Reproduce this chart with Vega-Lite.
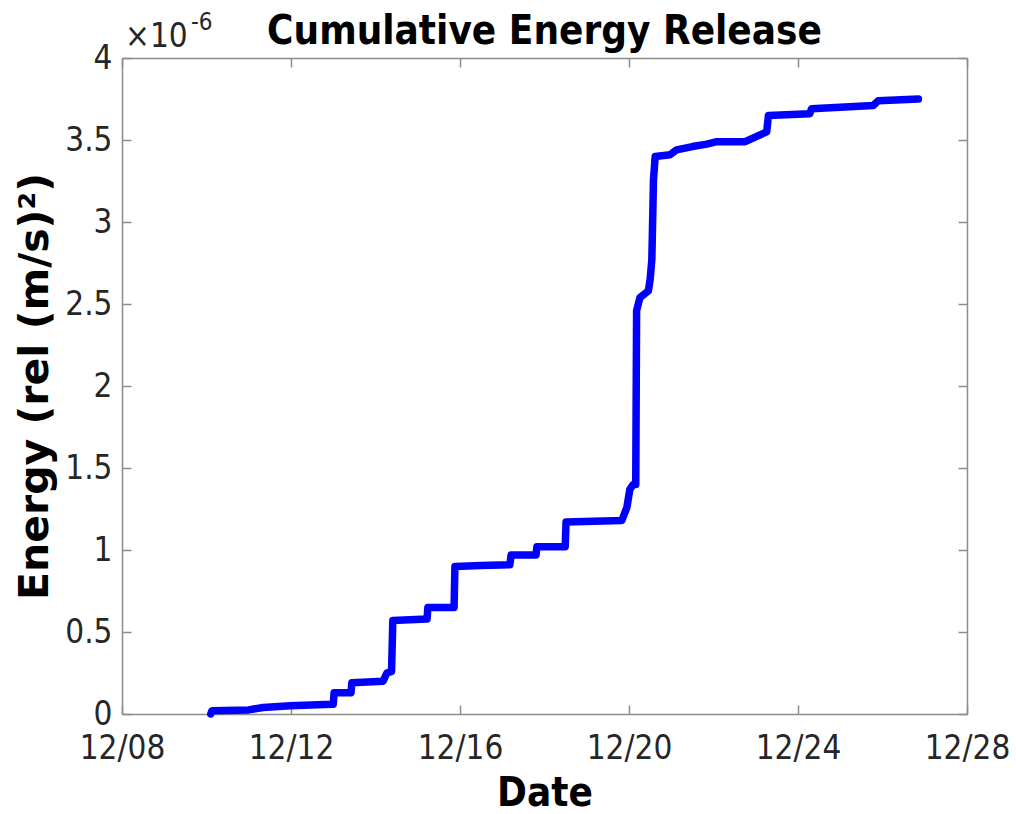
{
  "$schema": "https://vega.github.io/schema/vega-lite/v6.json",
  "width": 845,
  "height": 656,
  "autosize": {"type": "none"},
  "padding": {"left": 122, "top": 58, "right": 49, "bottom": 100},
  "background": "white",
  "data": {
    "values": [
      {"time": "2017-12-10T02:24:00", "energy": 0.0},
      {"time": "2017-12-10T03:07:00", "energy": 0.02e-6},
      {"time": "2017-12-11T00:00:00", "energy": 0.025e-6},
      {"time": "2017-12-11T08:10:00", "energy": 0.04e-6},
      {"time": "2017-12-11T23:31:00", "energy": 0.05e-6},
      {"time": "2017-12-12T23:02:00", "energy": 0.06e-6},
      {"time": "2017-12-13T00:00:00", "energy": 0.06e-6},
      {"time": "2017-12-13T00:29:00", "energy": 0.13e-6},
      {"time": "2017-12-13T10:05:00", "energy": 0.13e-6},
      {"time": "2017-12-13T10:34:00", "energy": 0.19e-6},
      {"time": "2017-12-14T04:19:00", "energy": 0.20e-6},
      {"time": "2017-12-14T06:29:00", "energy": 0.25e-6},
      {"time": "2017-12-14T09:07:00", "energy": 0.26e-6},
      {"time": "2017-12-14T09:50:00", "energy": 0.57e-6},
      {"time": "2017-12-15T05:17:00", "energy": 0.58e-6},
      {"time": "2017-12-15T05:46:00", "energy": 0.65e-6},
      {"time": "2017-12-15T20:38:00", "energy": 0.65e-6},
      {"time": "2017-12-15T21:07:00", "energy": 0.90e-6},
      {"time": "2017-12-16T12:00:00", "energy": 0.905e-6},
      {"time": "2017-12-17T04:19:00", "energy": 0.91e-6},
      {"time": "2017-12-17T05:02:00", "energy": 0.97e-6},
      {"time": "2017-12-17T19:12:00", "energy": 0.97e-6},
      {"time": "2017-12-17T19:41:00", "energy": 1.02e-6},
      {"time": "2017-12-18T11:46:00", "energy": 1.02e-6},
      {"time": "2017-12-18T12:14:00", "energy": 1.17e-6},
      {"time": "2017-12-19T19:55:00", "energy": 1.18e-6},
      {"time": "2017-12-19T22:48:00", "energy": 1.26e-6},
      {"time": "2017-12-20T00:29:00", "energy": 1.37e-6},
      {"time": "2017-12-20T02:24:00", "energy": 1.40e-6},
      {"time": "2017-12-20T03:50:00", "energy": 1.40e-6},
      {"time": "2017-12-20T04:19:00", "energy": 2.46e-6},
      {"time": "2017-12-20T06:14:00", "energy": 2.54e-6},
      {"time": "2017-12-20T11:02:00", "energy": 2.58e-6},
      {"time": "2017-12-20T12:00:00", "energy": 2.65e-6},
      {"time": "2017-12-20T12:58:00", "energy": 2.77e-6},
      {"time": "2017-12-20T13:55:00", "energy": 3.26e-6},
      {"time": "2017-12-20T14:53:00", "energy": 3.40e-6},
      {"time": "2017-12-20T23:17:00", "energy": 3.41e-6},
      {"time": "2017-12-21T03:07:00", "energy": 3.44e-6},
      {"time": "2017-12-21T12:00:00", "energy": 3.46e-6},
      {"time": "2017-12-21T20:10:00", "energy": 3.475e-6},
      {"time": "2017-12-22T01:55:00", "energy": 3.49e-6},
      {"time": "2017-12-22T18:00:00", "energy": 3.49e-6},
      {"time": "2017-12-23T06:14:00", "energy": 3.55e-6},
      {"time": "2017-12-23T07:12:00", "energy": 3.65e-6},
      {"time": "2017-12-24T06:43:00", "energy": 3.66e-6},
      {"time": "2017-12-24T07:41:00", "energy": 3.69e-6},
      {"time": "2017-12-25T18:43:00", "energy": 3.71e-6},
      {"time": "2017-12-25T21:36:00", "energy": 3.74e-6},
      {"time": "2017-12-26T20:24:00", "energy": 3.75e-6}
    ]
  },
  "layer": [
    {
      "mark": {"type": "line", "color": "#0000ff", "strokeWidth": 7.5, "strokeJoin": "round", "strokeCap": "round"},
      "encoding": {
        "x": {
          "field": "time",
          "type": "temporal",
          "scale": {"domain": [{"year": 2017, "month": 12, "date": 8}, {"year": 2017, "month": 12, "date": 28}], "nice": false},
          "axis": {
            "orient": "bottom",
            "title": "Date",
            "titleFontSize": 40,
            "format": "%m/%d",
            "values": [
              {"year": 2017, "month": 12, "date": 8},
              {"year": 2017, "month": 12, "date": 12},
              {"year": 2017, "month": 12, "date": 16},
              {"year": 2017, "month": 12, "date": 20},
              {"year": 2017, "month": 12, "date": 24},
              {"year": 2017, "month": 12, "date": 28}
            ],
            "labelPadding": 27,
            "titlePadding": 8
          }
        },
        "y": {
          "field": "energy",
          "type": "quantitative",
          "scale": {"domain": [0, 4e-6], "nice": false, "zero": true},
          "axis": {
            "orient": "left",
            "title": "Energy (rel (m/s)²)",
            "titleFont": "DejaVu Sans",
            "titleFontSize": 41,
            "values": [0, 0.5e-6, 1e-6, 1.5e-6, 2e-6, 2.5e-6, 3e-6, 3.5e-6, 4e-6],
            "labelExpr": "format(datum.value * 1e6, '~g')",
            "labelPadding": 19,
            "titlePadding": 8
          }
        }
      }
    },
    {
      "mark": {"type": "point", "opacity": 0},
      "encoding": {
        "x": {
          "field": "time",
          "type": "temporal",
          "axis": {
            "orient": "top",
            "title": null,
            "labels": false,
            "values": [
              {"year": 2017, "month": 12, "date": 8},
              {"year": 2017, "month": 12, "date": 12},
              {"year": 2017, "month": 12, "date": 16},
              {"year": 2017, "month": 12, "date": 20},
              {"year": 2017, "month": 12, "date": 24},
              {"year": 2017, "month": 12, "date": 28}
            ]
          }
        },
        "y": {
          "field": "energy",
          "type": "quantitative",
          "axis": {
            "orient": "right",
            "title": null,
            "labels": false,
            "values": [0, 0.5e-6, 1e-6, 1.5e-6, 2e-6, 2.5e-6, 3e-6, 3.5e-6, 4e-6]
          }
        }
      }
    },
    {
      "data": {"values": [{"label": "Cumulative Energy Release"}]},
      "mark": {
        "type": "text",
        "align": "center",
        "baseline": "alphabetic",
        "dy": -14,
        "font": "DejaVu Sans Condensed, DejaVu Sans",
        "fontSize": 40,
        "fontWeight": "bold",
        "color": "#000000"
      },
      "encoding": {
        "x": {"datum": {"year": 2017, "month": 12, "date": 18}, "type": "temporal", "axis": null},
        "y": {"datum": 4e-6, "type": "quantitative", "axis": null},
        "text": {"field": "label"}
      }
    },
    {
      "data": {"values": [{"label": "×10"}]},
      "mark": {
        "type": "text",
        "align": "left",
        "baseline": "alphabetic",
        "dx": 3,
        "dy": -11,
        "font": "DejaVu Sans Condensed, DejaVu Sans",
        "fontSize": 33,
        "color": "#262626"
      },
      "encoding": {
        "x": {"datum": {"year": 2017, "month": 12, "date": 8}, "type": "temporal", "axis": null},
        "y": {"datum": 4e-6, "type": "quantitative", "axis": null},
        "text": {"field": "label"}
      }
    },
    {
      "data": {"values": [{"label": "-6"}]},
      "mark": {
        "type": "text",
        "align": "left",
        "baseline": "alphabetic",
        "dx": 69,
        "dy": -28,
        "font": "DejaVu Sans Condensed, DejaVu Sans",
        "fontSize": 24,
        "color": "#262626"
      },
      "encoding": {
        "x": {"datum": {"year": 2017, "month": 12, "date": 8}, "type": "temporal", "axis": null},
        "y": {"datum": 4e-6, "type": "quantitative", "axis": null},
        "text": {"field": "label"}
      }
    }
  ],
  "resolve": {"axis": {"x": "independent", "y": "independent"}},
  "config": {
    "view": {"stroke": null},
    "axis": {
      "grid": false,
      "domainColor": "#8c8c8c",
      "domainWidth": 1.5,
      "tickColor": "#8c8c8c",
      "tickWidth": 1.5,
      "tickSize": -9,
      "labelFont": "DejaVu Sans Condensed, DejaVu Sans",
      "labelFontSize": 33,
      "labelColor": "#262626",
      "labelOverlap": false,
      "labelFlush": false,
      "titleFont": "DejaVu Sans Condensed, DejaVu Sans",
      "titleFontSize": 39,
      "titleFontWeight": "bold",
      "titleColor": "#000000"
    }
  }
}
